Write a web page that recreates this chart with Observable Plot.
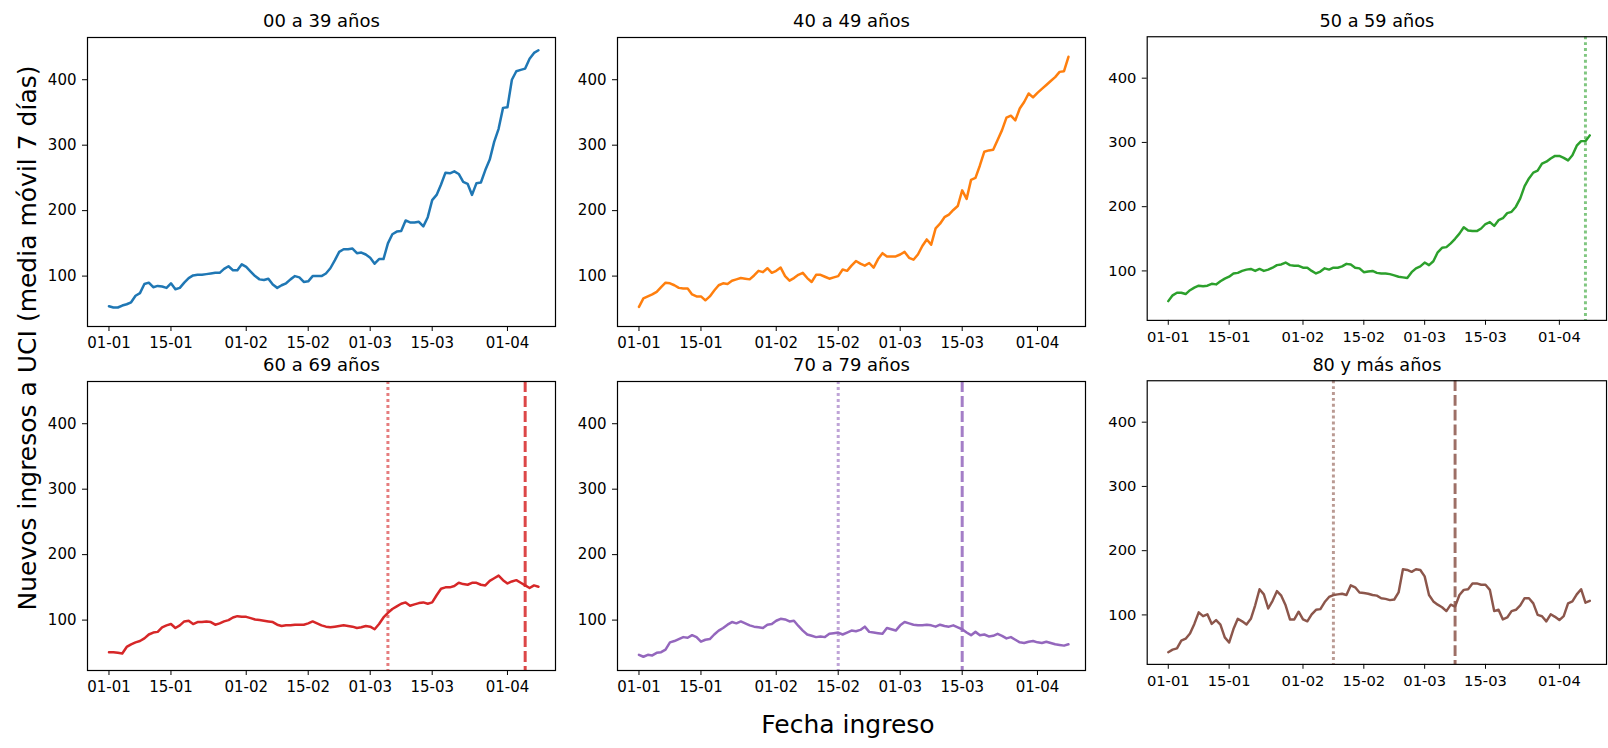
<!DOCTYPE html>
<html>
<head>
<meta charset="utf-8">
<script src="https://cdn.jsdelivr.net/npm/d3@7"></script>
<script src="https://cdn.jsdelivr.net/npm/@observablehq/plot@0.6"></script>
<style>
  html, body { margin: 0; padding: 0; background: #fff; overflow: hidden; }
  #fig { position: relative; width: 1608px; height: 748px; overflow: hidden; font-family: "DejaVu Sans", sans-serif; color: #000; }
  .panel { position: absolute; }
  .panel svg { overflow: visible; }
  #ylab { position: absolute; left: 27px; top: 338px; transform: translate(-50%, -50%) rotate(-90deg); font-size: 25px; white-space: nowrap; line-height: 25px; }
  #xlab { position: absolute; left: 848px; top: 712px; transform: translateX(-50%); font-size: 25px; white-space: nowrap; line-height: 25px; }
</style>
</head>
<body>
<div id="fig">
  <div id="ylab">Nuevos ingresos a UCI (media móvil 7 días)</div>
  <div id="xlab">Fecha ingreso</div>
</div>
<script>
// ---- data (daily 7-day moving average, from 2021-01-01) ----
const startDate = "2021-01-01";
const groups = ["00 a 39 años", "40 a 49 años", "50 a 59 años", "60 a 69 años", "70 a 79 años", "80 y más años"];
const colors = ["#1f77b4", "#ff7f0e", "#2ca02c", "#d62728", "#9467bd", "#8c564b"];

const g00_39 = [54,52,52,55,57,60,70,74,88,90,
  83,85,84,82,89,80,82,90,97,101,
  102,102,103,104,105,105,111,115,109,109,
  118,114,107,100,95,94,96,87,82,86,
  89,95,100,98,91,92,100,100,100,104,
  112,124,137,141,141,142,135,136,133,128,
  119,126,126,150,164,168,169,185,182,182,
  183,176,190,216,224,240,258,257,260,256,
  244,241,224,242,243,262,278,305,325,357,
  358,400,413,415,417,432,441,445];
const g40_49 = [53,66,69,72,76,83,90,89,86,82,
  81,81,72,69,69,63,69,78,86,89,
  88,93,95,97,96,95,101,108,106,112,
  105,108,113,100,93,97,102,105,97,91,
  102,102,99,96,98,100,110,108,116,123,
  119,116,120,113,126,135,130,130,130,133,
  137,128,125,133,146,156,148,173,180,190,
  194,201,207,231,218,247,250,269,290,292,
  293,308,323,342,345,338,356,366,379,373,
  380,386,392,398,404,412,413,435];
const g50_59 = [53,62,66,66,64,70,74,77,76,77,
  80,79,84,88,91,96,97,100,102,103,
  100,103,100,102,105,109,110,113,109,108,
  108,105,105,100,96,99,104,102,105,105,
  107,111,110,105,104,98,99,100,97,96,
  96,95,93,91,90,89,98,104,107,113,
  109,115,129,136,137,143,150,158,168,163,
  162,162,166,173,176,170,179,182,190,192,
  200,213,232,244,253,256,267,270,275,279,
  279,276,272,280,295,302,302,311];
const g60_69 = [51,51,50,49,59,63,66,68,72,78,
  81,82,89,92,94,88,92,98,99,94,
  97,97,98,97,93,95,98,100,104,106,
  105,105,103,101,100,99,98,97,93,91,
  92,92,93,93,93,95,98,95,92,90,
  89,90,91,92,91,90,88,89,91,90,
  86,94,104,111,117,121,125,127,122,124,
  126,127,125,127,138,148,150,150,152,157,
  155,154,157,157,154,153,160,164,168,161,
  156,159,161,157,153,149,153,151];
const g70_79 = [47,44,47,46,50,51,55,66,68,71,
  74,73,77,74,67,70,71,78,84,88,
  93,97,95,98,95,92,90,89,88,93,
  94,99,102,101,98,99,91,84,78,76,
  74,75,74,79,80,81,78,81,84,83,
  85,90,82,81,80,79,88,86,84,92,
  97,95,93,92,92,93,92,90,93,91,
  90,92,89,86,81,77,82,77,78,75,
  76,79,76,72,74,70,66,65,67,68,
  66,65,67,65,63,62,61,63];
const g80_plus = [42,46,48,60,63,71,86,104,98,101,
  86,92,85,65,57,78,94,90,85,94,
  115,140,132,110,122,137,130,115,93,93,
  105,93,90,101,108,109,120,128,131,132,
  133,131,146,143,135,134,133,131,130,126,
  125,123,124,135,171,170,167,171,170,160,
  131,121,116,112,106,116,113,131,139,140,
  149,149,147,147,139,106,108,93,96,106,
  108,115,126,126,118,100,98,90,101,97,
  92,98,118,121,132,140,119,122];
const series = [g00_39, g40_49, g50_59, g60_69, g70_79, g80_plus];

// reference vertical lines (dotted / dashed) per group, "" = none
const refDotted = ["", "", "2021-04-07", "2021-03-05", "2021-02-15", "2021-02-08"];
const refDashed = ["", "", "", "2021-04-05", "2021-03-15", "2021-03-08"];

// axis ticks
const xTickDates = ["2021-01-01", "2021-01-15", "2021-02-01", "2021-02-15", "2021-03-01", "2021-03-15", "2021-04-01"];
const yTicks = [100, 200, 300, 400];
const xDomainDates = ["2020-12-27T03:36", "2021-04-11T20:24"];
const yDomain = [23, 464.5];

// ---- layout ----
const colLeft = [87, 617, 1148];
const rowTop = [37, 381];
const W = 468, H = 289;
const ML = 70, MR = 2, MT = 40, MB = 45;

const DAY = 864e5;
const t0 = new Date(startDate + "T00:00Z").getTime();
const fig = document.getElementById("fig");

series.forEach((vals, k) => {
  const data = vals.map((v, i) => ({date: new Date(t0 + i * DAY), value: v}));
  const marks = [
    Plot.lineY(data, {x: "date", y: "value", stroke: colors[k], strokeWidth: 2.5})
  ];
  if (refDotted[k]) marks.push(Plot.ruleX([new Date(refDotted[k] + "T00:00Z")], {stroke: colors[k], strokeOpacity: 0.6, strokeWidth: 3, strokeDasharray: "3,3"}));
  if (refDashed[k]) marks.push(Plot.ruleX([new Date(refDashed[k] + "T00:00Z")], {stroke: colors[k], strokeOpacity: 0.85, strokeWidth: 3, strokeDasharray: "11,4"}));
  marks.push(Plot.frame({stroke: "black", strokeWidth: 1.2}));
  marks.push(Plot.text([groups[k]], {frameAnchor: "top", dy: -16, lineAnchor: "middle", fontSize: 18, fill: "black"}));

  const chart = Plot.plot({
    width: ML + W + MR,
    height: MT + H + MB,
    marginLeft: ML, marginRight: MR, marginTop: MT, marginBottom: MB,
    style: {fontSize: "15px", fontFamily: "DejaVu Sans", color: "black", background: "transparent", overflow: "visible"},
    x: {type: "utc", domain: xDomainDates.map(d => new Date(d + "Z")), ticks: xTickDates.map(d => new Date(d + "T00:00Z")),
        tickFormat: d3.utcFormat("%d-%m"), tickSize: 5, tickPadding: 6, label: null},
    y: {domain: yDomain, ticks: yTicks, tickSize: 5, tickPadding: 6, label: null},
    marks
  });
  const div = document.createElement("div");
  div.className = "panel";
  div.style.left = (colLeft[k % 3] - ML) + "px";
  div.style.top = (rowTop[Math.floor(k / 3)] - MT) + "px";
  div.appendChild(chart);
  fig.appendChild(div);
});
</script>
</body>
</html>
